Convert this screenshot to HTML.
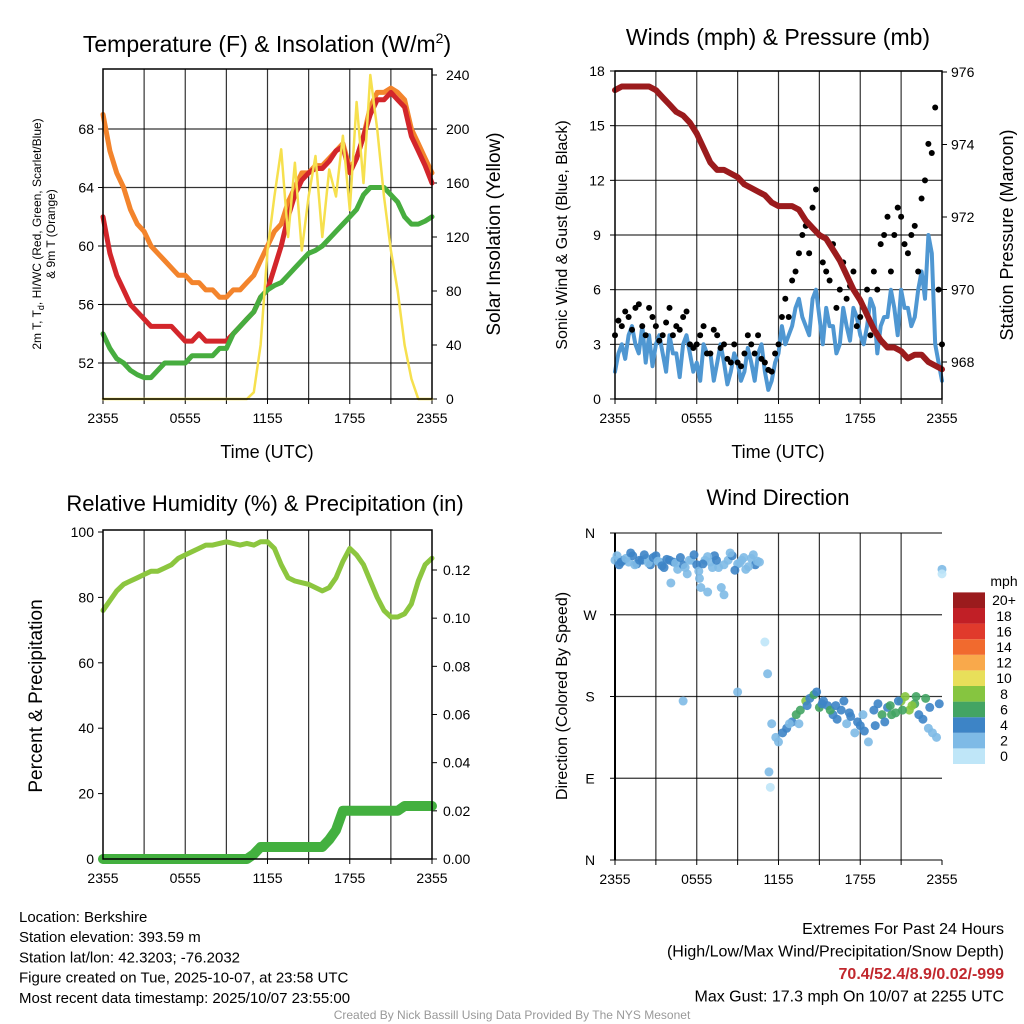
<!DOCTYPE html>
<html><head><meta charset="utf-8"><style>
body{margin:0;background:#fff;}
svg{display:block;font-family:"Liberation Sans",Arial,sans-serif;}
</style></head><body>
<svg id="s" width="1024" height="1024" viewBox="0 0 1024 1024"></svg>
<script>
// ---- data (hours since 2355) ----
const hours = [0,0.5,1,1.5,2,2.5,3,3.5,4,4.5,5,5.5,6,6.5,7,7.5,8,8.5,9,9.5,10,10.5,11,11.5,12,12.5,13,13.5,14,14.5,15,15.5,16,16.5,17,17.5,18,18.5,19,19.5,20,20.5,21,21.5,22,22.5,23,23.5,24];
const hoursQ = [0.25,0.75,1.25,1.75,2.25,2.75,3.25,3.75,4.25,4.75,5.25,5.75,6.25,6.75,7.25,7.75,8.25,8.75,9.25,9.75,10.25,10.75,11.25,11.75,12.25,12.75,13.25,13.75,14.25,14.75,15.25,15.75,16.25,16.75,17.25,17.75,18.25,18.75,19.25,19.75,20.25,20.75,21.25,21.75,22.25,22.75,23.25,23.75];
const temp9m = [69,66.5,65,64,62.5,61.5,61,60,59.5,59,58.5,58,58,57.5,57.5,57,57,56.5,56.5,57,57,57.5,58,59,60,61,61.5,63,64,65,65,65.5,65.5,66,66.5,67,65.3,66,67.5,69.5,70.5,70.5,70.8,70.5,70,68,67,66,65];
const temp2m = [62,59.5,58,57,56,55.5,55,54.5,54.5,54.5,54.5,54,53.5,53.5,54,53.5,53.5,53.5,53.5,54,54.5,55,55.5,56.5,57,58.5,60,62,63.5,64.5,65,65.3,65.3,65.8,66.5,66.8,65,66,67.5,69,70,70,70.5,70,69.5,67.5,66.5,65.5,64.3];
const dewpt = [54,53,52.3,52,51.5,51.2,51,51,51.5,52,52,52,52,52.5,52.5,52.5,52.5,53,53,54,54.5,55,55.5,56.5,57,57.3,57.5,58,58.5,59,59.5,59.7,60,60.5,61,61.5,62,62.5,63.5,64,64,64,63.5,63,62,61.5,61.5,61.7,62];
const insol = [0,0,0,0,0,0,0,0,0,0,0,0,0,0,0,0,0,0,0,0,0,0,5,40,110,150,185,120,175,110,150,180,120,170,150,195,140,220,160,240,200,150,110,80,40,15,0,0,0];
const wind = [1.5,3,3.5,3,4,3.5,3,2.5,3.5,2.5,3,2.5,2,3,2.5,2,2,1.5,2,1.5,2,2.5,1.5,1,2.5,3,4,5.5,4,5.5,4.5,5,4,3,4,5,3.5,4,5,4,4.5,5,6,5,4.5,7,9,3,1];
const windQ = [2.5,2.2,4,2.5,2,1.8,3.5,1.5,2.5,1.2,3.5,1.5,1,2.5,1,3,0.8,2.5,1,2.8,1,3,0.5,2,4,3.5,5,4.5,3.5,6,3,4,2.5,5,3.2,4.5,3,5.5,2.5,4.5,6,3.5,5,4,6,5.5,8,2];
const gust = [3.5,4,4.5,5,4,5,4,3.5,5,4,4.5,3,3,4,2.5,3.5,3,2,2,2.5,3,3.5,2,1.5,3,5.5,6.5,8,9.5,10.5,9,7,8.5,6,5.5,7,4.5,6,7,8.5,10,9,10,8,9.5,11,14,16,3];
const gustQ = [4.3,4.8,3.8,5.2,3.5,4.5,3.2,4.2,3.5,3.8,4.8,2.8,3.5,2.5,3.8,2.8,2.2,3,1.8,3.5,2.5,2.2,1.6,2.5,4.5,4.5,7,9,8,11.5,7.5,6.5,5,7.5,6.2,4,5,3.5,6,9,7,10.5,8.5,9,7,12,13.5,6];
const pressure = [975.5,975.6,975.6,975.6,975.6,975.6,975.5,975.3,975.1,974.9,974.8,974.6,974.3,973.9,973.5,973.3,973.3,973.2,973.1,972.9,972.8,972.7,972.6,972.4,972.3,972.3,972.3,972.2,971.9,971.7,971.5,971.4,971.1,970.8,970.4,970.0,969.7,969.3,968.9,968.6,968.4,968.4,968.3,968.1,968.2,968.2,968.0,967.9,967.8];
const rh = [76,79,82,84,85,86,87,88,88,89,90,92,93,94,95,96,96,96.5,97,96.5,96,96.5,96,97,97,95,90,86,85,84.5,84,83,82,83,86,91,95,93,90,85,80,76,74,74,75,78,85,90,92];
const precip = [0,0,0,0,0,0,0,0,0,0,0,0,0,0,0,0,0,0,0,0,0,0,0.002,0.005,0.005,0.005,0.005,0.005,0.005,0.005,0.005,0.005,0.005,0.008,0.012,0.02,0.02,0.02,0.02,0.02,0.02,0.02,0.02,0.02,0.022,0.022,0.022,0.022,0.022];
const dirHours = [0,0.3,0.6,1,1.3,1.6,2,2.3,2.6,3,3.3,3.6,4,4.3,4.6,5,5.3,5.6,6,6.3,6.6,7,7.3,7.6,8,8.3,8.6,9,9.3,9.6,10,10.3,10.6,7.8,8,4.1,5,11,11.2,11.5,11.8,12,12.3,12.6,13,13.3,13.6,14,14.3,14.6,15,15.3,15.6,16,16.3,16.6,17,17.3,17.6,18,18.3,18.6,19,19.3,19.6,20,20.3,20.6,21,21.3,21.6,22,22.3,22.6,23,23.3,23.6,24,24,0.15,0.45,0.8,1.15,1.45,1.8,2.15,2.45,2.8,3.15,3.45,3.8,4.45,4.8,5.15,5.45,5.8,6.15,6.45,6.8,7.15,7.45,8.45,8.8,9.15,9.45,9.8,10.15,10.45,6.2,6.8,9,11.3,11.4,13.5,14.1,14.8,15.2,15.8,16.2,16.8,17.2,17.8,18.2,19.1,19.8,20.2,20.8,21.1,21.8,22.1,22.8,23.1,23.8,12.8];
const dirDeg = [330,325,330,328,335,326,330,332,325,335,328,322,330,328,320,325,315,330,325,300,330,328,335,322,325,330,335,326,330,320,332,325,328,300,292,305,175,240,205,150,135,130,140,145,152,160,165,175,178,182,168,175,170,160,155,165,150,158,140,148,142,130,165,172,160,168,160,162,175,180,165,172,160,155,145,140,135,320,315,335,328,332,338,325,330,336,327,333,329,324,331,327,333,322,330,336,318,326,334,322,330,338,319,327,333,323,336,329,310,295,185,97,80,150,170,185,172,165,170,175,162,152,160,148,152,170,175,165,170,180,178,168,172,150,142,120];
const dirSpd = [2,3,3,2,3,4,3,2,3,3,2,3,4,3,2,3,2,2,3,1,2,2,3,1,2,2,3,2,1,2,2,3,2,1,1,1,1,0,2,1,2,2,3,3,4,5,6,7,4,5,6,4,4,4,3,4,2,3,2,4,3,2,4,3,5,4,5,6,7,8,7,5,4,3,2,1,1,1,0,2,3,2,3,2,4,3,2,3,2,3,3,2,3,2,2,3,2,3,2,2,3,2,3,2,1,2,2,2,1,1,1,1,0,1,3,4,4,5,4,3,4,3,2,4,4,5,4,6,7,6,5,4,3,2,2,1];
const tempTicks = [52,56,60,64,68];
const insolTicks = [0,40,80,120,160,200,240];
const windTicks = [0,3,6,9,12,15,18];
const presTicks = [968,970,972,974,976];
const rhTicks = [0,20,40,60,80,100];
const precipTicks = [0,0.02,0.04,0.06,0.08,0.10,0.12];
const dirTicks = ["N","E","S","W","N"];
const timeLabels = ["2355","0555","1155","1755","2355"];
const cbarLabels = ["0","2","4","6","8","10","12","14","16","18","20+"];
const cbarColors = ["#bfe6f8","#7ebae6","#3d84c6","#43a463","#86c540","#e8df5a","#f9a94b","#f16a2e","#e03a2c","#c11f26","#9b1b1d"];

const S=document.getElementById('s');const NS='http://www.w3.org/2000/svg';
function el(tag,attrs,parent){const e=document.createElementNS(NS,tag);for(const k in attrs)e.setAttribute(k,attrs[k]);(parent||S).appendChild(e);return e;}
function txt(x,y,t,size,anchor,parent,extra){const e=el('text',Object.assign({x:x,y:y,'font-size':size,'text-anchor':anchor||'middle',fill:'#000'},extra||{}),parent);e.textContent=t;return e;}
function lin(d0,d1,r0,r1){return v=>r0+(v-d0)*(r1-r0)/(d1-d0);}
function merge(h1,v1,h2,v2){const a=h1.map((h,i)=>[h,v1[i]]).concat(h2.map((h,i)=>[h,v2[i]]));a.sort((p,q)=>p[0]-q[0]);return a;}

function panel(name,x0,x1,y0,y1,hGrid){
  const g=el('g',{});
  const xs=lin(0,24,x0,x1);
  for(let h=3;h<24;h+=3)el('line',{x1:xs(h),x2:xs(h),y1:y0,y2:y1,stroke:'#000','stroke-width':1.2,'stroke-opacity':0.8},g);
  hGrid.forEach(y=>el('line',{x1:x0,x2:x1,y1:y,y2:y,stroke:'#000','stroke-width':1.2,'stroke-opacity':0.8},g));
  for(let h=0;h<=24;h+=3)el('line',{x1:xs(h),x2:xs(h),y1:y1,y2:y1+5,stroke:'#000','stroke-width':1},g);
  timeLabels.forEach((t,i)=>{const l=txt(xs(i*6),y1+24,t,14,'middle',g);});
  return {g,xs};
}
function frame(g,x0,x1,y0,y1){el('rect',{x:x0,y:y0,width:x1-x0,height:y1-y0,fill:'none',stroke:'#000','stroke-width':1.5},g);}
function path(g,xsArr,ysArr,color,w,name){let d='';xsArr.forEach((x,i)=>{d+=(i?'L':'M')+x.toFixed(1)+','+ysArr[i].toFixed(1);});const p=el('path',{d:d,fill:'none',stroke:color,'stroke-width':w,'stroke-linejoin':'round','stroke-linecap':'round'},g);return p;}

// ---- Panel 1 ----
(function(){
 const x0=103,x1=432,y0=69,y1=399;
 const P=panel('temperature-panel',x0,x1,y0,y1,[]);const g=P.g,xs=P.xs;
 const ty=lin(52,68,363,129), iy=lin(0,240,399,75);
 tempTicks.forEach(v=>{el('line',{x1:x0,x2:x1,y1:ty(v),y2:ty(v),stroke:'#000','stroke-width':1.2,'stroke-opacity':0.8},g);el('line',{x1:x0-5,x2:x0,y1:ty(v),y2:ty(v),stroke:'#000'},g);const l=txt(x0-9,ty(v)+5,String(v),14,'end',g);});
 insolTicks.forEach(v=>{el('line',{x1:x1,x2:x1+5,y1:iy(v),y2:iy(v),stroke:'#000'},g);const l=txt(x1+14,iy(v)+5,String(v),14,'start',g);});
 path(g,hours.map(xs),temp9m.map(ty),'#f3842c',5,'series-9m-temp');
 path(g,hours.map(xs),temp2m.map(ty),'#d3262b',5,'series-2m-temp');
 path(g,hours.map(xs),dewpt.map(ty),'#47ad3f',5,'series-dewpoint');
 path(g,hours.map(xs),insol.map(iy),'#f6e04e',2.5,'series-insolation');
 frame(g,x0,x1,y0,y1);
 const t=txt(267,52,'',23,'middle',g);t.innerHTML='Temperature (F) &amp; Insolation (W/m<tspan dy="-9" font-size="14">2</tspan><tspan dy="9">)</tspan>';
 const a=txt(267,458,'Time (UTC)',18,'middle',g);
 const yl=txt(0,0,'',12,'middle',g,{transform:'translate(41,234) rotate(-90)'});yl.innerHTML='2m T, T<tspan dy="3" font-size="9">d</tspan><tspan dy="-3">, HI/WC (Red, Green, Scarlet/Blue)</tspan>';
 const yl2=txt(0,0,'& 9m T (Orange)',12,'middle',g,{transform:'translate(55,234) rotate(-90)'});
 const yr=txt(0,0,'Solar Insolation (Yellow)',19,'middle',g,{transform:'translate(500,234) rotate(-90)'});
})();

// ---- Panel 2 ----
(function(){
 const x0=615,x1=942,y0=71,y1=399;
 const wy=lin(0,18,399,71), py=lin(968,976,362,72);
 const P=panel('winds-panel',x0,x1,y0,y1,windTicks.slice(1).map(wy));const g=P.g,xs=P.xs;
 windTicks.forEach(v=>{el('line',{x1:x0-5,x2:x0,y1:wy(v),y2:wy(v),stroke:'#000'},g);const l=txt(x0-18,wy(v)+5,String(v),14,'middle',g);});
 presTicks.forEach(v=>{el('line',{x1:x1,x2:x1+5,y1:py(v),y2:py(v),stroke:'#000'},g);const l=txt(x1+9,py(v)+5,String(v),14,'start',g);});
 const wm=merge(hours,wind,hoursQ,windQ);
 path(g,wm.map(p=>xs(p[0])),wm.map(p=>wy(p[1])),'#4f97d2',4,'series-sonic-wind');
 const gm=merge(hours,gust,hoursQ,gustQ);
 gm.forEach(p=>{const c=el('circle',{cx:xs(p[0]),cy:wy(p[1]),r:3,fill:'#000'},g);});
 path(g,hours.map(xs),pressure.map(py),'#9b1b1d',6,'series-pressure');
 frame(g,x0,x1,y0,y1);
 const t=txt(778,45,'Winds (mph) & Pressure (mb)',23,'middle',g);
 const a=txt(778,458,'Time (UTC)',18,'middle',g);
 const yl=txt(0,0,'Sonic Wind & Gust (Blue, Black)',16,'middle',g,{transform:'translate(567,235) rotate(-90)'});
 const yr=txt(0,0,'Station Pressure (Maroon)',18,'middle',g,{transform:'translate(1013,235) rotate(-90)'});
})();

// ---- Panel 3 ----
(function(){
 const x0=103,x1=432,y0=530,y1=859;
 const ry=lin(0,100,859,532), qy=lin(0,0.12,859,570);
 const P=panel('humidity-panel',x0,x1,y0,y1,[]);const g=P.g,xs=P.xs;
 rhTicks.forEach(v=>{el('line',{x1:x0-5,x2:x0,y1:ry(v),y2:ry(v),stroke:'#000'},g);const l=txt(x0-9,ry(v)+5,String(v),14,'end',g);});
 precipTicks.forEach(v=>{el('line',{x1:x1,x2:x1+5,y1:qy(v),y2:qy(v),stroke:'#000'},g);const l=txt(x1+11,qy(v)+5,v.toFixed(2),14,'start',g);});
 path(g,hours.map(xs),rh.map(ry),'#8cc63f',5,'series-rh');
 path(g,hours.map(xs),precip.map(qy),'#43b03f',10,'series-precip');
 frame(g,x0,x1,y0,y1);
 const t=txt(265,511,'Relative Humidity (%) & Precipitation (in)',22,'middle',g);
 const yl=txt(0,0,'Percent & Precipitation',19,'middle',g,{transform:'translate(42,696) rotate(-90)'});
})();

// ---- Panel 4 ----
(function(){
 const x0=615,x1=942,y0=533,y1=860;
 const dy=lin(0,360,860,533);
 const P=panel('wind-direction-panel',x0,x1,y0,y1,[0,90,180,270,360].map(dy));const g=P.g,xs=P.xs;
 el('line',{x1:x0,x2:x0,y1:y0,y2:y1,stroke:'#000','stroke-width':2},g);
 dirTicks.forEach((t,i)=>{const y=dy(i*90);el('line',{x1:x0-5,x2:x0,y1:y,y2:y,stroke:'#000'},g);const l=txt(590,y+5,t,14,'middle',g);});
 dirHours.forEach((h,i)=>{const ci=Math.min(10,Math.round(dirSpd[i]/2));const c=el('circle',{cx:xs(h),cy:dy(dirDeg[i]),r:4.5,fill:cbarColors[ci],'fill-opacity':0.9},g);});
 const t=txt(778,505,'Wind Direction',22,'middle',g);
 const yl=txt(0,0,'Direction (Colored By Speed)',16,'middle',g,{transform:'translate(567,696) rotate(-90)'});
 const cb=el('g',{},g);
 const bh=15.6;
 cbarColors.forEach((c,i)=>{const y=764-(i+1)*bh;el('rect',{x:953,y:y,width:32,height:bh,fill:c},cb);const l=txt(1004,y+bh/2+5,cbarLabels[i],14,'middle',cb);});
 const u=txt(1004,586,'mph',14,'middle',cb);
})();

// ---- footer ----
const info=["Location: Berkshire","Station elevation: 393.59 m","Station lat/lon: 42.3203; -76.2032","Figure created on Tue, 2025-10-07, at 23:58 UTC","Most recent data timestamp: 2025/10/07 23:55:00"];
info.forEach((t,i)=>{const l=txt(19,922+i*20.2,t,15,'start');});
const ex=[["Extremes For Past 24 Hours",'#000','normal'],["(High/Low/Max Wind/Precipitation/Snow Depth)",'#000','normal'],["70.4/52.4/8.9/0.02/-999",'#c1272d','bold'],["Max Gust: 17.3 mph On 10/07 at 2255 UTC",'#000','normal']];
ex.forEach((e,i)=>{const l=txt(1004,934+i*22.5,e[0],16,'end',null,{fill:e[1],'font-weight':e[2]});});
const cr=txt(512,1019,'Created By Nick Bassill Using Data Provided By The NYS Mesonet',12,'middle',null,{fill:'#999'});


</script>
</body></html>
